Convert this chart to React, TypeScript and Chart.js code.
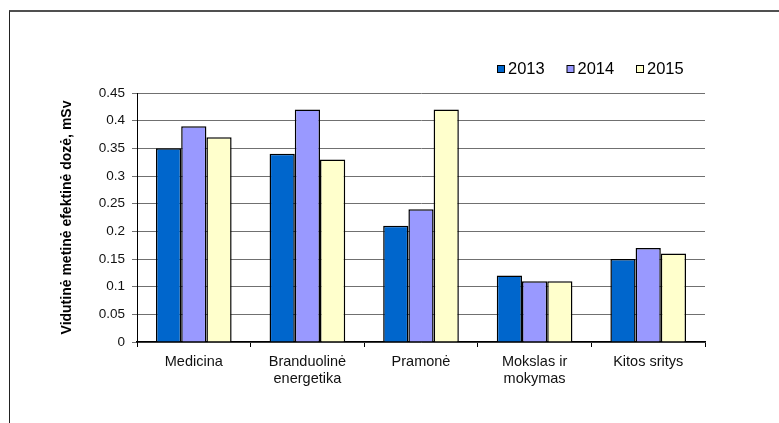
import React, { useEffect, useRef } from "react";
import { Chart, registerables } from "chart.js";

Chart.register(...registerables);

const categories: (string | string[])[] = [
  "Medicina",
  ["Branduolinė", "energetika"],
  "Pramonė",
  ["Mokslas ir", "mokymas"],
  "Kitos sritys",
];
const seriesNames = ["2013", "2014", "2015"];
const values2013 = [0.35, 0.34, 0.21, 0.12, 0.15];
const values2014 = [0.39, 0.42, 0.24, 0.11, 0.17];
const values2015 = [0.37, 0.33, 0.42, 0.11, 0.16];
const seriesColors = ["#0066CC", "#9999FF", "#FFFFCC"];
const yTitle = "Vidutinė metinė efektinė dozė, mSv";

const FONT = "'Liberation Sans', Arial, sans-serif";

const legendPlugin = {
  id: "customLegend",
  afterDraw(chart: any) {
    const ctx = chart.ctx;
    ctx.save();
    ctx.font = `16.5px ${FONT}`;
    ctx.textBaseline = "alphabetic";
    ctx.textAlign = "left";
    chart.data.datasets.forEach((ds: any, i: number) => {
      const x = 497 + i * 69.5;
      ctx.fillStyle = ds.backgroundColor;
      ctx.fillRect(x + 0.5, 65.5, 7, 7);
      ctx.strokeStyle = "#000";
      ctx.lineWidth = 1;
      ctx.strokeRect(x + 0.5, 65.5, 7, 7);
      ctx.fillStyle = "#000";
      ctx.fillText(ds.label, x + 11, 74);
    });
    ctx.restore();
  },
};

export default function App() {
  const ref = useRef<HTMLCanvasElement>(null);
  useEffect(() => {
    if (!ref.current) return;
    const data = [values2013, values2014, values2015];
    const chart = new Chart(ref.current, {
      type: "bar",
      data: {
        labels: categories,
        datasets: seriesNames.map((name, i) => ({
          label: name,
          data: data[i],
          backgroundColor: seriesColors[i],
          borderColor: "#000",
          borderWidth: 1.5,
          categoryPercentage: 0.666,
          barPercentage: 1.0,
        })),
      },
      options: {
        animation: false,
        responsive: false,
        maintainAspectRatio: false,
        layout: { padding: { left: 55, right: 74, top: 93, bottom: 0 } },
        plugins: { legend: { display: false }, tooltip: { enabled: false } },
        scales: {
          x: {
            afterFit: (s: any) => {
              s.height = 81;
            },
            border: { display: true, color: "#000", width: 1.5 },
            grid: {
              drawOnChartArea: false,
              drawTicks: true,
              tickLength: 5,
              color: "#000",
              offset: true,
            },
            ticks: {
              color: "#111",
              font: { size: 14.5, family: FONT },
              padding: 6,
              maxRotation: 0,
              autoSkip: false,
            },
          },
          y: {
            min: 0,
            max: 0.45,
            afterFit: (s: any) => {
              s.width = 82;
            },
            border: { display: true, color: "#000", width: 1 },
            grid: {
              color: "#707070",
              tickLength: 5,
              drawTicks: true,
            },
            ticks: {
              stepSize: 0.05,
              color: "#111",
              font: { size: 13.5, family: FONT },
              padding: 7,
              callback: (v: any) => String(Number(Number(v).toFixed(2))),
            },
            title: {
              display: true,
              text: yTitle,
              color: "#000",
              font: { size: 14, weight: "bold", family: FONT },
              padding: { top: 4, bottom: 0 },
            },
          },
        },
      },
      plugins: [legendPlugin],
    });
    return () => chart.destroy();
  }, []);
  return (
    <div style={{ position: "absolute", left: 0, top: 0, width: 779, height: 423, background: "#fff" }}>
      <div
        style={{
          position: "absolute",
          left: 9,
          top: 10,
          right: 0,
          bottom: 0,
          borderLeft: "1px solid #222",
          borderTop: "2px solid #505050",
        }}
      />
      <canvas ref={ref} width={779} height={423} style={{ position: "absolute", left: 0, top: 0 }} />
    </div>
  );
}
